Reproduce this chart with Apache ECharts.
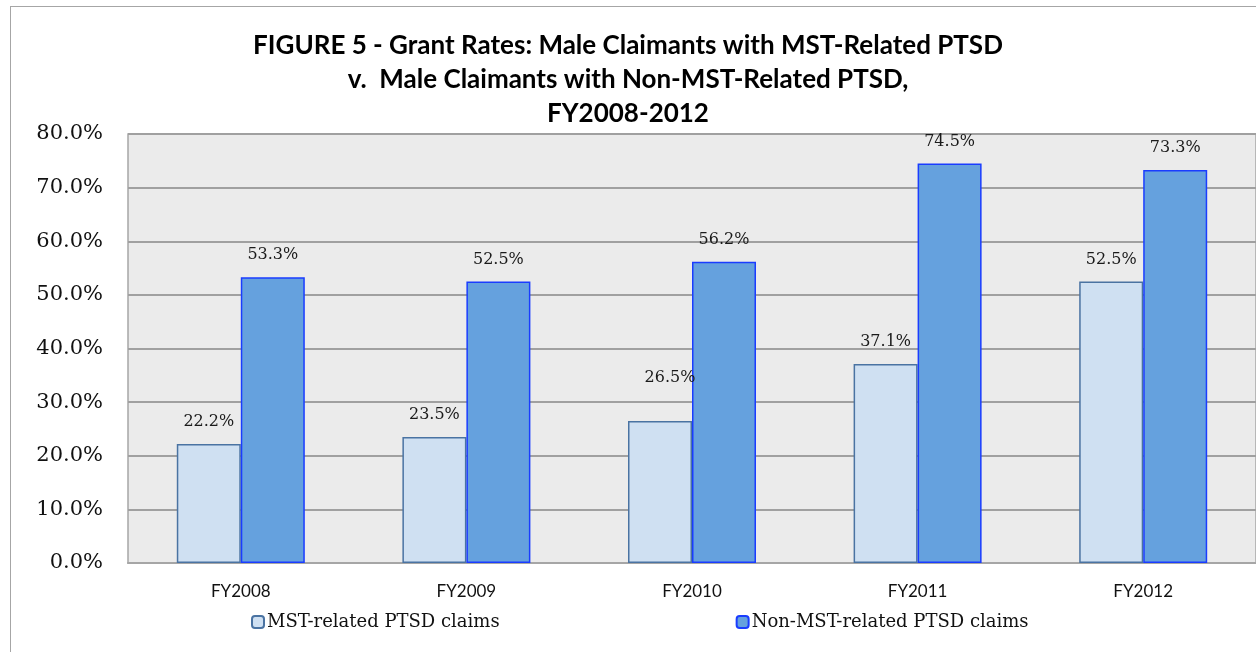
<!DOCTYPE html>
<html>
<head>
<meta charset="utf-8">
<script src="https://cdn.jsdelivr.net/npm/echarts@6/dist/echarts.min.js"></script>
<style>
  html, body { margin: 0; padding: 0; background: #fff; }
  #main { width: 1256px; height: 652px; }
  .frame { position: absolute; left: 10px; top: 6px; width: 1260px; height: 660px; border: 1.5px solid #a6a6a6; box-sizing: border-box; pointer-events: none; }
</style>
</head>
<body>
<div id="main"></div>
<div class="frame"></div>
<script>
// chart data
const years = ["FY2008", "FY2009", "FY2010", "FY2011", "FY2012"];
const mstRates = [22.2, 23.5, 26.5, 37.1, 52.5];
const nonMstRates = [53.3, 52.5, 56.2, 74.5, 73.3];
const seriesNames = ["MST-related PTSD claims", "Non-MST-related PTSD claims"];
const titleText = "FIGURE 5 - Grant Rates: Male Claimants with MST-Related PTSD\nv.  Male Claimants with Non-MST-Related PTSD,\nFY2008-2012";

const serif = "DejaVu Serif";
const sans = "Lato";

const chart = echarts.init(document.getElementById("main"));

const labelStyle = {
  show: true,
  position: "top",
  distance: 14,
  color: "#1a1a1a",
  fontFamily: serif,
  fontSize: 16,
  formatter: p => p.value.toFixed(1) + "%"
};

// the 26.5% label sits higher and a bit to the right in the original
const mstData = mstRates.map((v, i) =>
  i === 2 ? { value: v, label: { distance: 35, offset: [10, 0] } } : v
);

const options = {
  animation: false,
  title: {
    text: titleText,
    left: "center",
    top: 29,
    padding: 0,
    textStyle: {
      fontFamily: sans,
      fontWeight: "bold",
      fontSize: 26,
      lineHeight: 34,
      color: "#000"
    }
  },
  legend: {
    bottom: 16,
    left: 246,
    itemGap: 236,
    itemWidth: 12,
    itemHeight: 12,
    textStyle: { fontFamily: serif, fontSize: 18, color: "#111", padding: [0, 0, 0, -2] },
    data: seriesNames
  },
  grid: {
    left: 128,
    top: 134,
    right: -2,
    bottom: 89,
    show: true,
    backgroundColor: "#ebebeb",
    borderColor: "#a6a6a6",
    borderWidth: 1.5,
    containLabel: false
  },
  xAxis: {
    type: "category",
    data: years,
    axisTick: { show: false },
    axisLine: { show: true, lineStyle: { color: "#a6a6a6", width: 2 } },
    axisLabel: { fontFamily: sans, fontSize: 17, color: "#111", margin: 20 }
  },
  yAxis: {
    type: "value",
    min: 0,
    max: 80,
    interval: 10,
    axisLine: { show: false },
    axisTick: { show: false },
    splitLine: { lineStyle: { color: "#a0a0a0", width: 2 } },
    axisLabel: {
      fontFamily: serif,
      fontSize: 21,
      color: "#111",
      margin: 25,
      formatter: v => v.toFixed(1) + "%"
    }
  },
  series: [
    {
      name: seriesNames[0],
      type: "bar",
      data: mstData,
      barWidth: 64,
      barGap: "0%",
      barCategoryGap: "42%",
      itemStyle: { color: "#cfe0f2", borderColor: "#4a73a2", borderWidth: 1.5 },
      label: labelStyle
    },
    {
      name: seriesNames[1],
      type: "bar",
      data: nonMstRates,
      barWidth: 64,
      barGap: "0%",
      itemStyle: { color: "#65a1de", borderColor: "#1a3cff", borderWidth: 1.5 },
      label: labelStyle
    }
  ]
};
chart.setOption(options);
</script>
</body>
</html>
